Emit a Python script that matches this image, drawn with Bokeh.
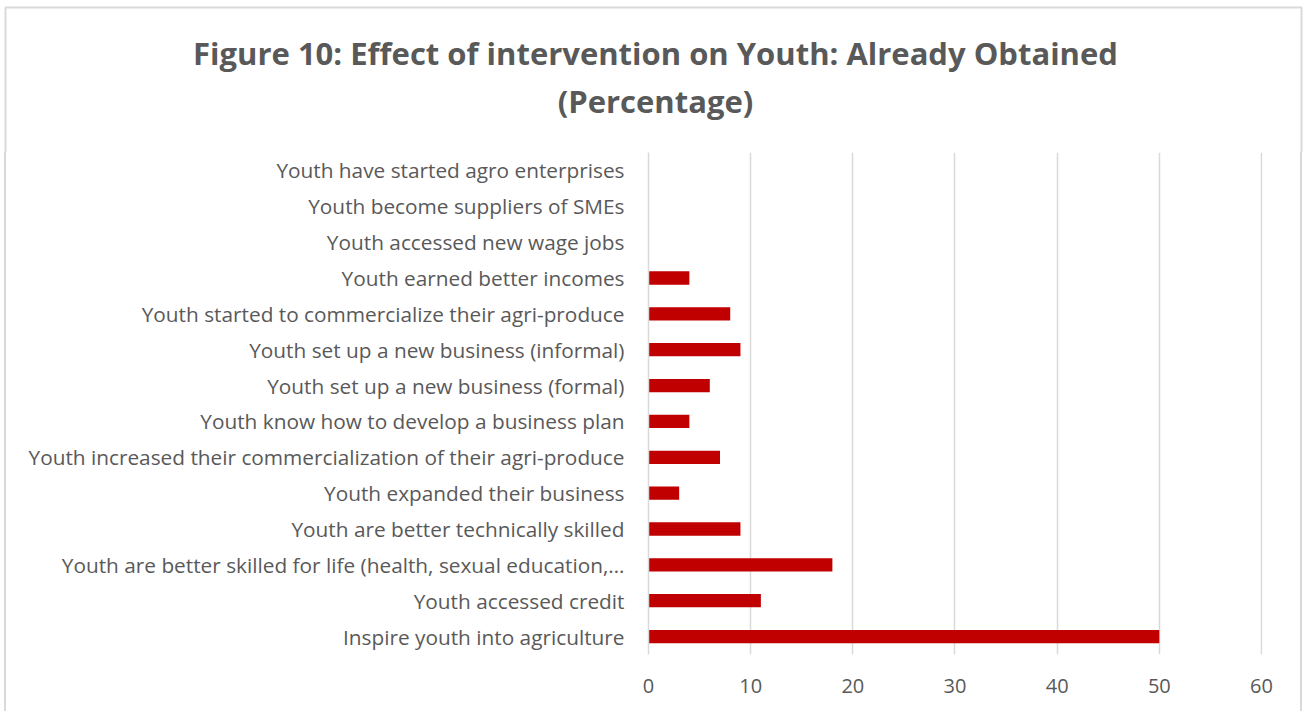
from bokeh.plotting import figure
from bokeh.models import FactorRange, Range1d, FixedTicker, ColumnDataSource
from bokeh.core.properties import value
from bokeh.embed import file_html
from bokeh.resources import INLINE

categories = [
    "Youth have started agro enterprises",
    "Youth become suppliers of SMEs",
    "Youth accessed new wage jobs",
    "Youth earned better incomes",
    "Youth started to commercialize their agri-produce",
    "Youth set up a new business (informal)",
    "Youth set up a new business (formal)",
    "Youth know how to develop a business plan",
    "Youth increased their commercialization of their agri-produce",
    "Youth expanded their business",
    "Youth are better technically skilled",
    "Youth are better skilled for life (health, sexual education,\u2026",
    "Youth accessed credit",
    "Inspire youth into agriculture",
]
values = [0, 0, 0, 4, 8, 9, 6, 4, 7, 3, 9, 18, 11, 50]
x_ticks = [0, 10, 20, 30, 40, 50, 60]
title_lines = ["Figure 10: Effect of intervention on Youth: Already Obtained", "(Percentage)"]

FONT = "Open Sans"
TXT = "#595959"
BORDER = "#d9d9d9"
W, H = 1306, 711
TOP_H = 152
FL, FB = 648, 654

# ---- title strip (frame covers the whole strip, y pointing down) ----
t = figure(width=W, height=TOP_H, x_range=Range1d(0, W), y_range=Range1d(TOP_H, 0),
           x_axis_type=None, y_axis_type=None, output_backend="svg",
           toolbar_location=None, min_border=0)
t.outline_line_color = None
t.grid.visible = False
t.title.visible = False
t.text(x=[655, 655], y=[52, 100], text=title_lines, text_align="center",
       text_baseline="middle", text_font=value(FONT), text_font_style="bold",
       text_font_size="31px", text_color=TXT)
t.line(x=[5, 5, 1301, 1301], y=[TOP_H, 7, 7, TOP_H], line_color=BORDER, line_width=2)

# ---- main chart ----
factors = list(reversed(categories))
src = ColumnDataSource(dict(cat=categories, val=values))

p = figure(
    width=W, height=H - TOP_H,
    y_range=FactorRange(factors=factors, range_padding=0),
    x_range=Range1d(0, 60.1),
    output_backend="svg", toolbar_location=None,
    min_border_left=FL, min_border_right=44,
    min_border_top=0, min_border_bottom=H - FB,
)
p.title.visible = False
p.outline_line_color = None

p.hbar(y="cat", right="val", left=0, height=0.37, source=src,
       fill_color="#C00000", line_color=None)

p.xgrid.ticker = FixedTicker(ticks=x_ticks)
p.xgrid.grid_line_color = BORDER
p.xgrid.grid_line_width = 1.5
p.ygrid.grid_line_color = None

p.xaxis.ticker = FixedTicker(ticks=x_ticks)
p.xaxis.axis_line_color = None
p.xaxis.major_tick_line_color = None
p.xaxis.minor_tick_line_color = None
p.xaxis.major_label_text_font = FONT
p.xaxis.major_label_text_font_size = "20px"
p.xaxis.major_label_text_color = TXT
p.xaxis.major_label_standoff = 18

p.yaxis.axis_line_color = BORDER
p.yaxis.axis_line_width = 1.5
p.yaxis.major_tick_line_color = None
p.yaxis.minor_tick_line_color = None
p.yaxis.major_label_text_font = FONT
p.yaxis.major_label_text_font_size = "20.8px"
p.yaxis.major_label_text_color = TXT
p.yaxis.major_label_standoff = 18

html = file_html([t, p], INLINE)
# outer side borders of the chart box below the title strip
css = ("<style>body{margin:0;position:relative;}"
       ".chartbox-l{position:absolute;left:4px;top:152px;width:2px;height:600px;background:%s;}"
       ".chartbox-r{position:absolute;left:1300px;top:152px;width:2px;height:600px;background:%s;}</style>"
       % (BORDER, BORDER))
html = html.replace("</head>", css + "</head>", 1)
html = html.replace("</body>", '<div class="chartbox-l"></div><div class="chartbox-r"></div></body>', 1)
open("out.html", "w").write(html)
